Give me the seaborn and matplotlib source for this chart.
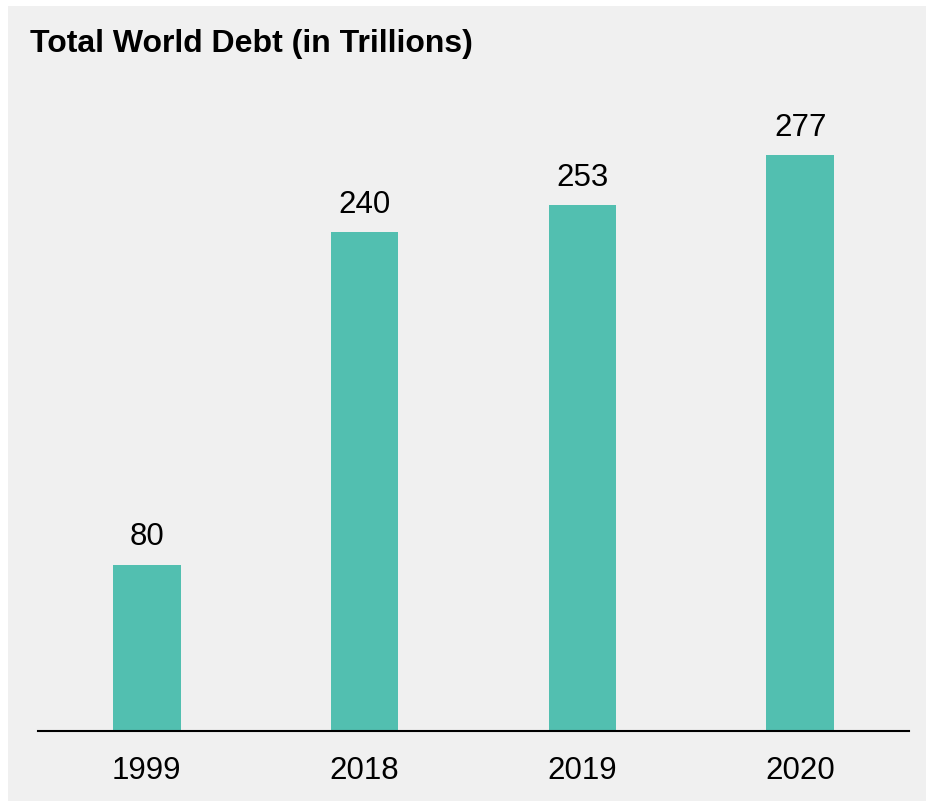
import matplotlib
matplotlib.use("Agg")
import matplotlib.pyplot as plt
import seaborn as sns
import pandas as pd
from matplotlib.patches import Rectangle

years = ["1999", "2018", "2019", "2020"]
debt = [80, 240, 253, 277]
title = "Total World Debt (in Trillions)"

sns.set_theme(style="white")
plt.rcParams["font.family"] = ["Liberation Sans", "DejaVu Sans"]

df = pd.DataFrame({"year": years, "debt": debt})

W, H = 926, 801
fig = plt.figure(figsize=(W / 100, H / 100), dpi=100)
fig.patch.set_facecolor("white")
fig.patches.append(Rectangle((8 / W, 0), 1, 1 - 6 / H, transform=fig.transFigure,
                             facecolor="#f0f0f0", edgecolor="none", zorder=-10))

ax = fig.add_axes([38 / W, (H - 731) / H, (909 - 38) / W, (731 - 108.5) / H])
ax.set_facecolor("none")
sns.barplot(data=df, x="year", y="debt", color="#52bfb0", saturation=1,
            width=0.31, linewidth=0, ax=ax)
ax.set_xlim(-0.5, 3.5)
ax.set_ylim(0, 299.5)

for p, v in zip(ax.patches, debt):
    ax.annotate(str(v), (p.get_x() + p.get_width() / 2, p.get_height()),
                xytext=(0, 9), textcoords="offset points",
                ha="center", va="bottom", fontsize=22.5, color="black")

for s in ["top", "right", "left"]:
    ax.spines[s].set_visible(False)
ax.spines["bottom"].set_color("black")
ax.spines["bottom"].set_linewidth(1.5)
ax.set_yticks([])
ax.set_xlabel("")
ax.set_ylabel("")
ax.tick_params(axis="x", length=0, pad=18, labelsize=22.5, labelcolor="black")

fig.text(30 / W, 1 - 44 / H, title, fontsize=23, fontweight="bold",
         ha="left", va="center", color="black")

fig.savefig("out.png", dpi=100, facecolor=fig.get_facecolor())
